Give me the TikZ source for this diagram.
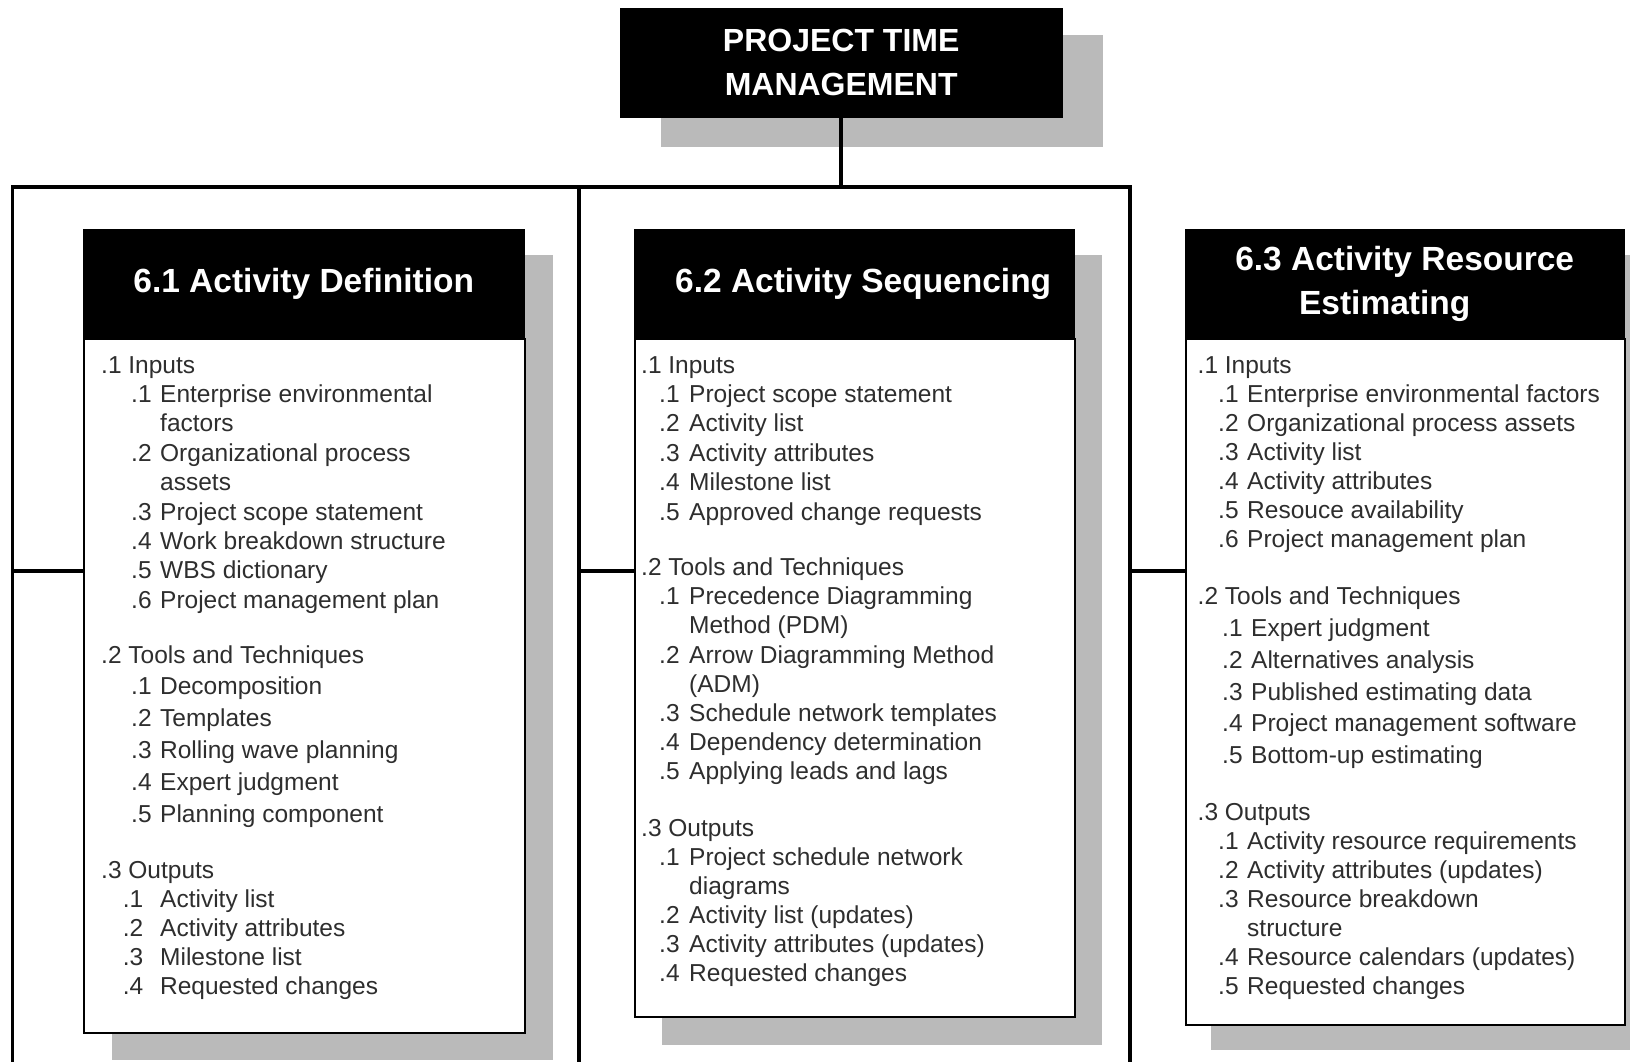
\documentclass[tikz,border=0pt]{standalone}
\usepackage{fontspec}
\setmainfont{Liberation Sans}
\usetikzlibrary{calc}
\tikzset{
  hdrbox/.style={fill=black, draw=black, text=white, font=\bfseries\fontsize{33.5}{43.7}\selectfont, align=center, inner sep=0pt, anchor=north west},
  topbox/.style={hdrbox, font=\bfseries\fontsize{32}{43.7}\selectfont},
  bodybox/.style={fill=white, draw=black, line width=2pt, inner sep=0pt, anchor=north west},
  bodytxt/.style={anchor=base west, inner sep=0pt, text=black!82, font=\fontsize{24.5}{29.4}\selectfont},
  shadowfill/.style={fill=black!27},
  busline/.style={line width=3.5pt, draw=black},
}
\newcommand\sectlines[7]{%
  \foreach \lv/\nm/\tx [count=\k from 0] in {#7}{%
    \ifcase\lv\relax
      \node[bodytxt] (#1\k) at (#2, #5+\k*#6) {\nm\ \tx};
    \or
      \node[bodytxt] (#1\k) at (#3, #5+\k*#6) {\makebox[\dimexpr#4pt-#3pt\relax][l]{\nm}\tx};
    \or
      \node[bodytxt] (#1\k) at (#4, #5+\k*#6) {\tx};
    \fi
  }%
}
\begin{document}
\begin{tikzpicture}[x=1pt,y=-1pt]
\useasboundingbox (0,0) rectangle (1630,1061);
\fill[white] (0,0) rectangle (1630,1061);

% top box
\fill[shadowfill] (661,35) rectangle (1103,147);
\node[topbox, minimum width=442pt, minimum height=109pt] (ptm) at (620,8) {PROJECT TIME\\MANAGEMENT};

% bus lines
\coordinate (busL) at (12.5,187);
\coordinate (busM) at (579,187);
\coordinate (busR) at (1130,187);
\coordinate (botL) at (12.5,1065);
\coordinate (botM) at (579,1065);
\coordinate (botR) at (1130,1065);
\coordinate (sL) at (12.5,571);
\coordinate (sM) at (579,571);
\coordinate (sR) at (1130,571);
\draw[busline] (ptm.south) -- (ptm.south |- busL);
\draw[busline] (botL) -- (busL) -- (busR) -- (botR);
\draw[busline] (busM) -- (botM);

% shadows
\fill[shadowfill] (112,255) rectangle (553,1060);
\fill[shadowfill] (662,255) rectangle (1102,1045);
\fill[shadowfill] (1211,255) rectangle (1640,1050);

% boxes
\node[hdrbox, minimum width=441pt, minimum height=109pt] (h1) at (83,229) {6.1 Activity Definition};
\node[bodybox, minimum width=441pt, minimum height=694pt] (b1) at (83,338) {};
\node[hdrbox, minimum width=440pt, minimum height=109pt] (h2) at (634,229) {\makebox[18pt]{}6.2 Activity Sequencing};
\node[bodybox, minimum width=440pt, minimum height=678pt] (b2) at (634,338) {};
\node[hdrbox, minimum width=439pt, minimum height=109pt] (h3) at (1185,229) {6.3 Activity Resource\\Estimating\makebox[40pt]{}};
\node[bodybox, minimum width=439pt, minimum height=686pt] (b3) at (1185,338) {};

% stubs
\draw[busline] (sL) -- (sL -| b1.west);
\draw[busline] (sM) -- (sM -| b2.west);
\draw[busline] (sR) -- (sR -| b3.west);

% box 1 text
\sectlines{a}{101}{131}{160}{373}{29.4}{0/.1/Inputs, 1/.1/Enterprise environmental, 2//factors, 1/.2/Organizational process, 2//assets, 1/.3/Project scope statement, 1/.4/Work breakdown structure, 1/.5/WBS dictionary, 1/.6/Project management plan}
\sectlines{b}{101}{131}{160}{663}{31.8}{0/.2/Tools and Techniques, 1/.1/Decomposition, 1/.2/Templates, 1/.3/Rolling wave planning, 1/.4/Expert judgment, 1/.5/Planning component}
\sectlines{c}{101}{122.6}{160}{878}{29.1}{0/.3/Outputs, 1/.1/Activity list, 1/.2/Activity attributes, 1/.3/Milestone list, 1/.4/Requested changes}

% box 2 text
\sectlines{d}{641}{659}{689}{373}{29.4}{0/.1/Inputs, 1/.1/Project scope statement, 1/.2/Activity list, 1/.3/Activity attributes, 1/.4/Milestone list, 1/.5/Approved change requests}
\sectlines{e}{641}{659}{689}{575.5}{29.2}{0/.2/Tools and Techniques, 1/.1/Precedence Diagramming, 2//Method (PDM), 1/.2/Arrow Diagramming Method, 2//(ADM), 1/.3/Schedule network templates, 1/.4/Dependency determination, 1/.5/Applying leads and lags}
\sectlines{f}{641}{659}{689}{836.4}{29.1}{0/.3/Outputs, 1/.1/Project schedule network, 2//diagrams, 1/.2/Activity list (updates), 1/.3/Activity attributes (updates), 1/.4/Requested changes}

% box 3 text
\sectlines{g}{1197.5}{1218}{1247}{373}{29.1}{0/.1/Inputs, 1/.1/Enterprise environmental factors, 1/.2/Organizational process assets, 1/.3/Activity list, 1/.4/Activity attributes, 1/.5/Resouce availability, 1/.6/Project management plan}
\sectlines{h}{1197.5}{1222}{1251}{604.6}{31.8}{0/.2/Tools and Techniques, 1/.1/Expert judgment, 1/.2/Alternatives analysis, 1/.3/Published estimating data, 1/.4/Project management software, 1/.5/Bottom-up estimating}
\sectlines{i}{1197.5}{1218}{1247}{820}{29}{0/.3/Outputs, 1/.1/Activity resource requirements, 1/.2/Activity attributes (updates), 1/.3/Resource breakdown, 2//structure, 1/.4/Resource calendars (updates), 1/.5/Requested changes}
\end{tikzpicture}
\end{document}
